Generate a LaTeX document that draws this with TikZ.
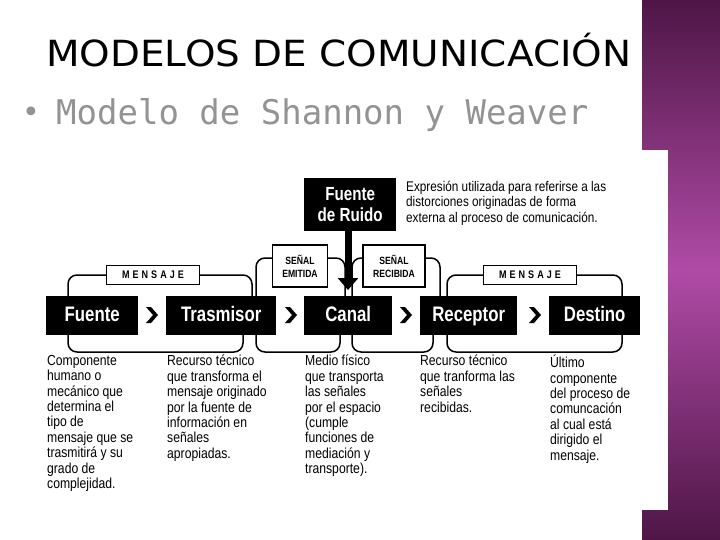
\documentclass[tikz,border=0pt]{standalone}
\usepackage{fontspec}
\setmainfont{Liberation Sans}
\newfontfamily\titlefont{DejaVu Sans}
\newfontfamily\subfont{DejaVu Sans Mono}
\usetikzlibrary{arrows.meta}
\definecolor{pdark}{HTML}{4E1646}
\definecolor{pmid}{HTML}{B04BA6}
\begin{document}
\begin{tikzpicture}[x=1pt,y=-1pt,
  blk/.style={fill=black,inner sep=0pt,anchor=north west},
  blt/.style={text=white,font=\bfseries\fontsize{21}{21}\selectfont,inner sep=0pt,xscale=0.8,text height=15pt,text depth=4pt},
  lbl/.style={draw=black,line width=1.2pt,fill=white,inner sep=2pt,align=center},
  lbt/.style={inner sep=0pt,align=center,font=\bfseries\fontsize{10.5}{13}\selectfont,xscale=0.82},
  brk/.style={line width=1.5pt,rounded corners=9pt},
  desc/.style={anchor=north west,align=left,inner sep=0pt,font=\fontsize{14.5}{15.4}\selectfont,xscale=0.84},
  chev/.style={fill=black}]
\useasboundingbox (0,0) rectangle (720,540);
\fill[white] (0,0) rectangle (720,540);
\shade[top color=pdark,bottom color=pmid] (642,0) rectangle (720,270);
\shade[top color=pmid,bottom color=pdark] (642,270) rectangle (720,540);
\fill[white] (642,150) rectangle (668,510);
\node[font=\titlefont\fontsize{36}{36}\selectfont,anchor=west,inner sep=0pt,xscale=1.08] (title) at (46,50) {MODELOS DE COMUNICACIÓN};
\node[font=\titlefont\fontsize{30}{30}\selectfont,text=gray!85,anchor=west,inner sep=0pt] (bul) at (22,115) {•};
\node[font=\subfont\fontsize{34}{34}\selectfont,text=gray!85,anchor=west,inner sep=0pt] (sub) at (56,115) {Modelo de Shannon y Weaver};
% brackets top
\draw[brk] (68,296) -- (68,275) -- (252,275) -- (252,296);
\draw[brk] (256,296) -- (256,258) -- (345,258) -- (345,296);
\draw[brk] (352,296) -- (352,258) -- (440,258) -- (440,296);
\draw[brk] (447,296) -- (447,275) -- (622,275) -- (622,296);
% brackets bottom
\draw[brk] (68,333) -- (68,352) -- (243,352) -- (243,333);
\draw[brk] (256,333) -- (256,352) -- (340,352) -- (340,333);
\draw[brk] (352,333) -- (352,352) -- (433,352) -- (433,333);
\draw[brk] (447,333) -- (447,352) -- (622,352) -- (622,333);
% label boxes
\node[lbl,minimum width=93pt,minimum height=19pt] (m1) at (153,275) {};
\node[lbt,font=\bfseries\fontsize{11}{11}\selectfont] at (m1) {M\,\,E\,\,N\,\,S\,\,A\,\,J\,\,E};
\node[lbl,minimum width=93pt,minimum height=19pt] (m2) at (530,275) {};
\node[lbt,font=\bfseries\fontsize{11}{11}\selectfont] at (m2) {M\,\,E\,\,N\,\,S\,\,A\,\,J\,\,E};
\node[lbl,minimum width=55pt,minimum height=42pt] (se) at (300,266) {};
\node[lbt] at (se) {SEÑAL\\EMITIDA};
\node[lbl,minimum width=62pt,minimum height=42pt] (sr) at (394,266) {};
\node[lbt] at (sr) {SEÑAL\\RECIBIDA};
% main blocks
\node[blk,minimum width=92pt,minimum height=39pt] (fuente) at (46,296) {};
\node[blt] at (fuente) {Fuente};
\node[blk,minimum width=110pt,minimum height=39pt] (tras) at (166,296) {};
\node[blt] at (tras) {Trasmisor};
\node[blk,minimum width=88pt,minimum height=39pt] (canal) at (304,296) {};
\node[blt] at (canal) {Canal};
\node[blk,minimum width=97pt,minimum height=39pt] (rec) at (420,296) {};
\node[blt] at (rec) {Receptor};
\node[blk,minimum width=91pt,minimum height=39pt] (dest) at (549,296) {};
\node[blt] at (dest) {Destino};
\foreach \cx in {152,291,406,535}
  \fill[chev] (\cx-6,307) -- (\cx-1,307) -- (\cx+6,315) -- (\cx-1,323) -- (\cx-6,323) -- (\cx+1,315) -- cycle;
% noise
\node[blk,minimum width=92pt,minimum height=53pt] (ruido) at (304,178) {};
\node[blt,align=center,font=\bfseries\fontsize{19}{21}\selectfont,text height=,text depth=] at (ruido) {Fuente\\de Ruido};
\coordinate (ar) at (348,290);
\draw[line width=7pt,-{Triangle[length=12pt,width=20pt]}] (ruido.south -| ar) -- (ar);
\node[anchor=north west,align=left,inner sep=0pt,font=\fontsize{14}{15.4}\selectfont,xscale=0.84] (nt) at (406,181) {Expresión utilizada para referirse a las\\distorciones originadas de forma\\externa al proceso de comunicación.};
% descriptions
\node[desc] (d1) at (47,355) {Componente\\humano o\\mecánico que\\determina el\\tipo de\\mensaje que se\\trasmitirá y su\\grado de\\complejidad.};
\node[desc] (d2) at (167,355) {Recurso técnico\\que transforma el\\mensaje originado\\por la fuente de\\información en\\señales\\apropiadas.};
\node[desc] (d3) at (305,355) {Medio físico\\que transporta\\las señales\\por el espacio\\(cumple\\funciones de\\mediación y\\transporte).};
\node[desc] (d4) at (420,355) {Recurso técnico\\que tranforma las\\señales\\recibidas.};
\node[desc] (d5) at (550,355) {Último\\componente\\del proceso de\\comuncación\\al cual está\\dirigido el\\mensaje.};
\end{tikzpicture}
\end{document}
